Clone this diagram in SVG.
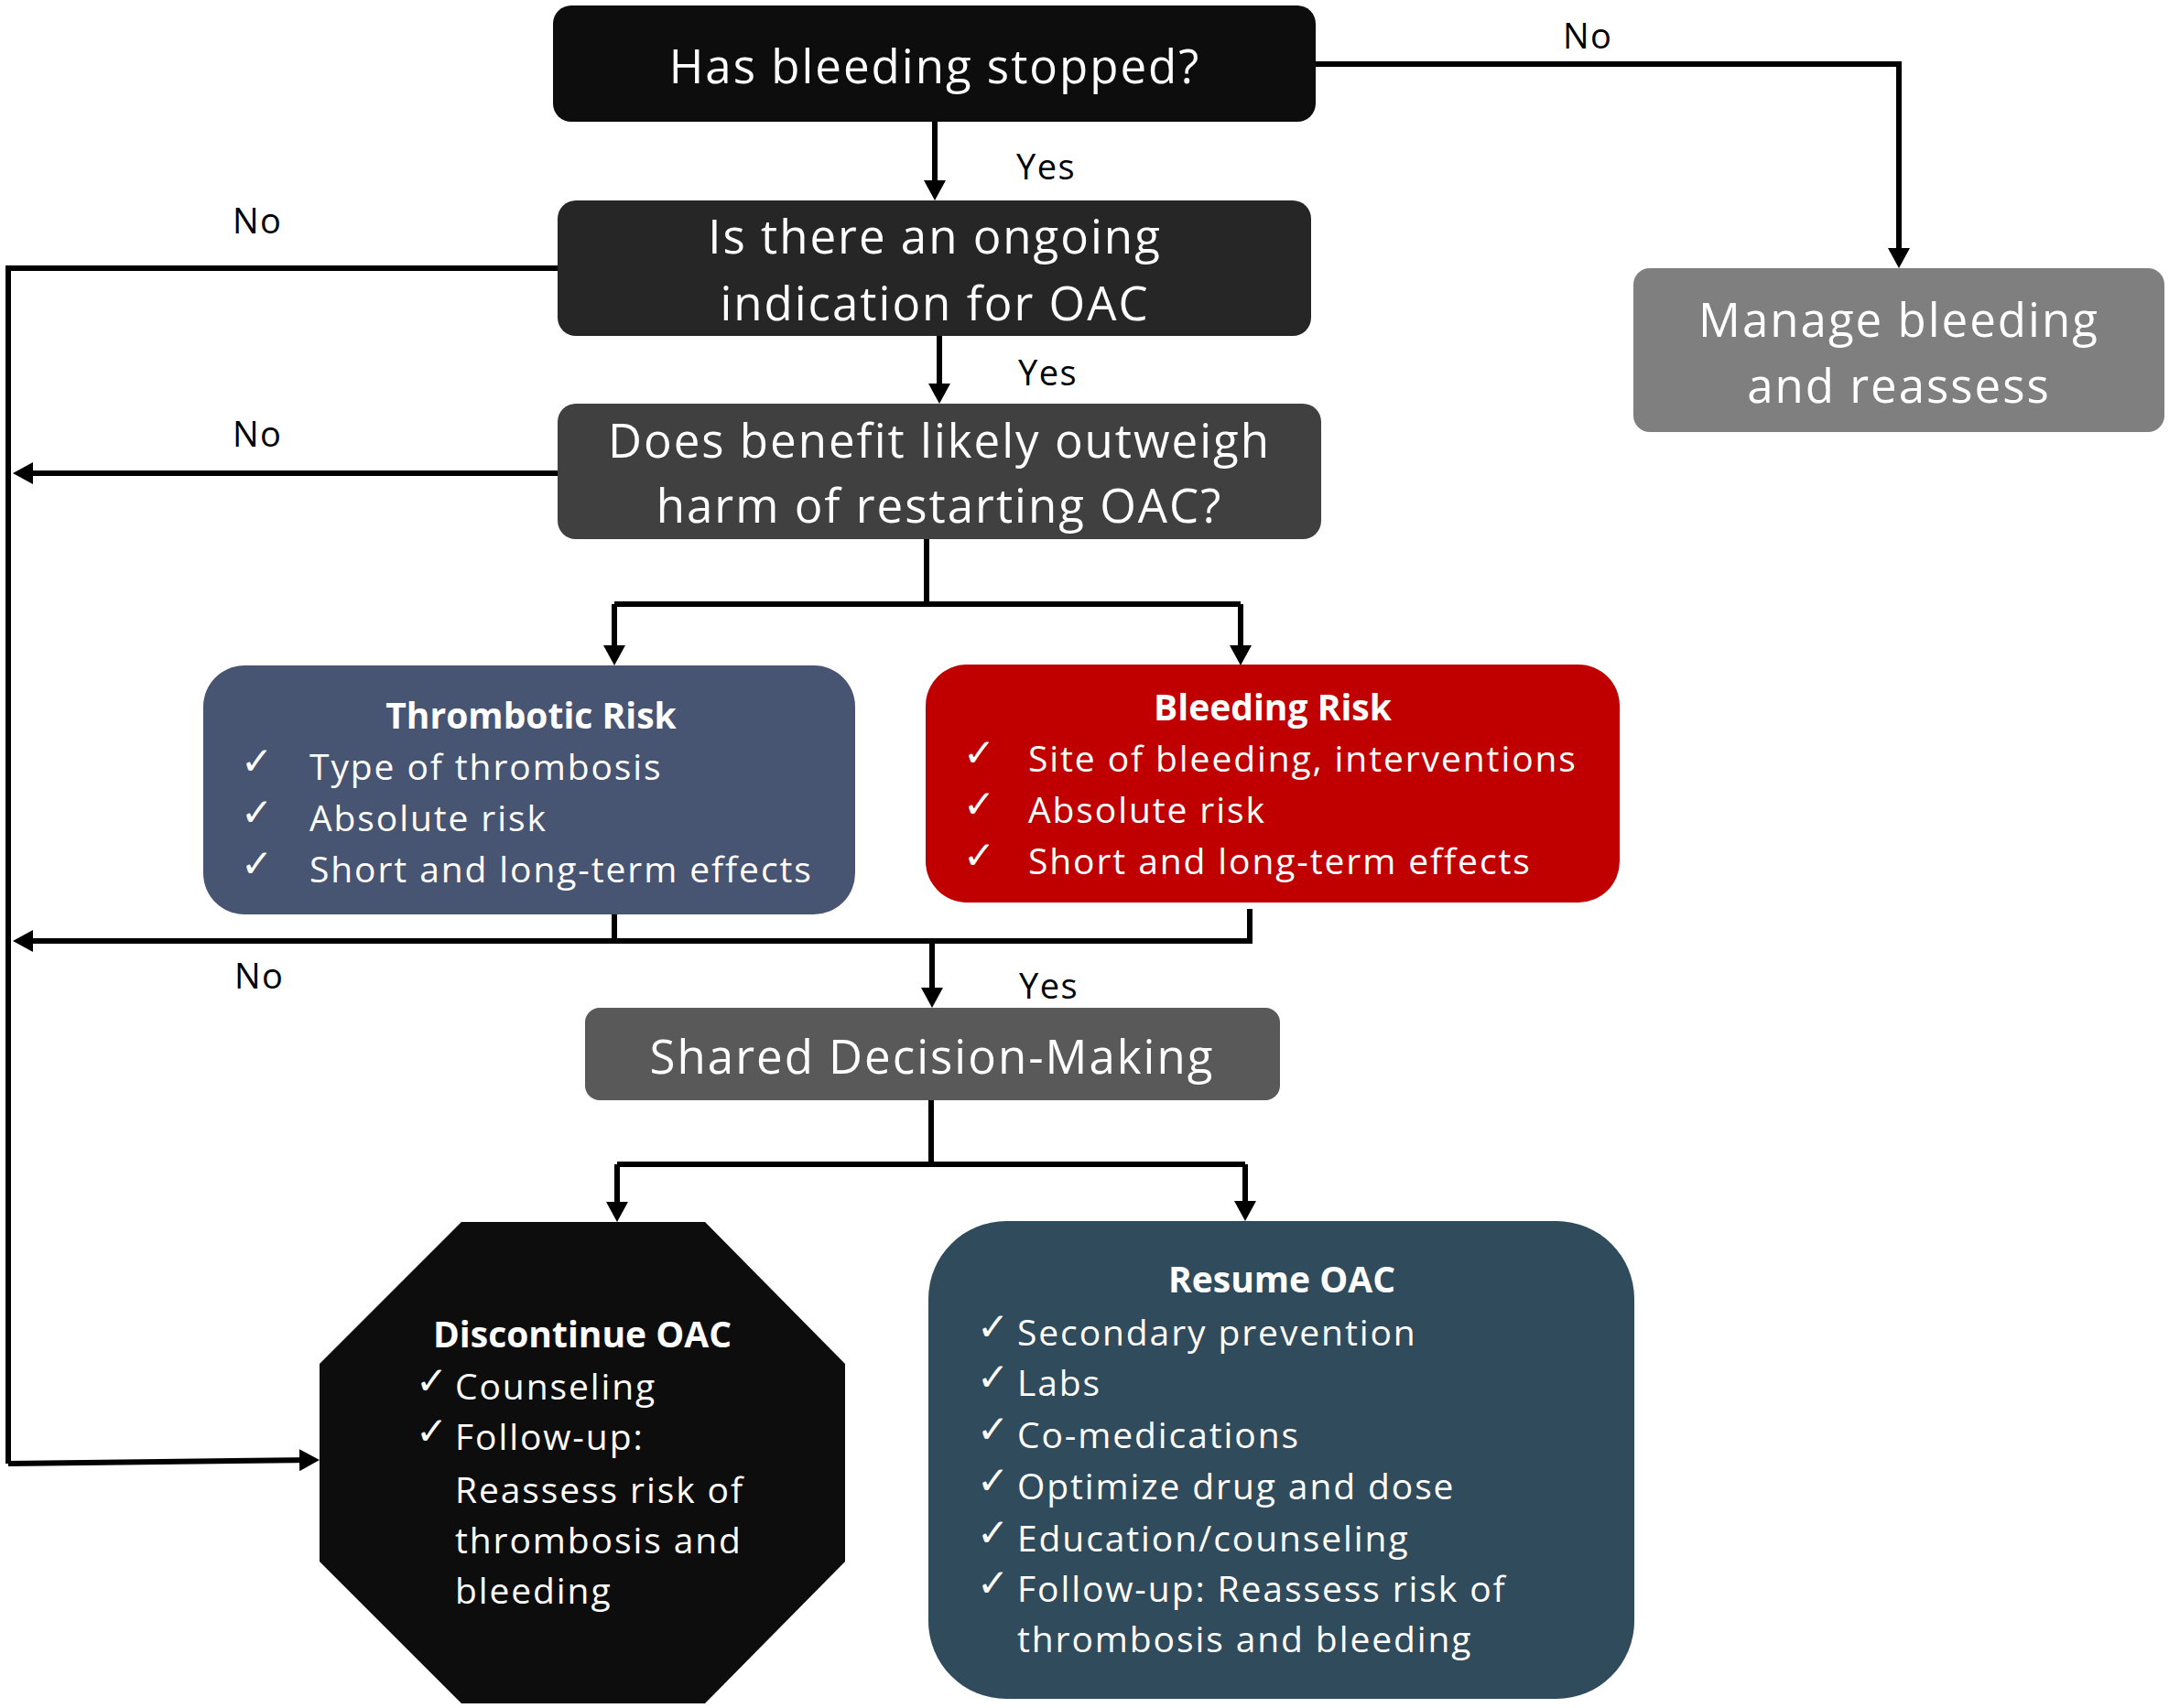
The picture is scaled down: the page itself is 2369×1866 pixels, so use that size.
<svg xmlns="http://www.w3.org/2000/svg" width="2369" height="1866" viewBox="0 0 2369 1866">
<style>
.t{font-family:"Open Sans","Liberation Sans",sans-serif;fill:#fff}
.big{font-size:51px;letter-spacing:2px;text-anchor:middle}
.ttl{font-size:39px;font-weight:bold;text-anchor:middle}
.item{font-size:39px;letter-spacing:1.9px}
.chk{font-family:"DejaVu Sans",sans-serif;fill:#fff;font-size:42px}
.lbl{font-family:"Open Sans","Liberation Sans",sans-serif;fill:#000;font-size:38px;letter-spacing:1.5px}
.ln{fill:none;stroke:#000;stroke-width:6}
.ar{marker-end:url(#ah)}
</style>
<defs>
<marker id="ah" viewBox="0 0 22 24" markerWidth="22" markerHeight="24" refX="16" refY="12" orient="auto" markerUnits="userSpaceOnUse">
<path d="M0,0 L22,12 L0,24 z" fill="#000"/>
</marker>
</defs>
<rect width="2369" height="1866" fill="#fff"/>
<g id="connectors">
<path class="ln ar" d="M1437,70 H2074 V287"/>
<path class="ln ar" d="M1021,133 V213"/>
<path class="ln" d="M609,293 H9 V1599"/>
<path class="ln ar" d="M9,1599 L343,1595"/>
<path class="ln ar" d="M1026,367 V435"/>
<path class="ln ar" d="M609,517 H20"/>
<path class="ln" d="M1012,589 V660 M671,660 H1355"/>
<path class="ln ar" d="M671,660 V721"/>
<path class="ln ar" d="M1355,660 V721"/>
<path class="ln" d="M671,999 V1028"/>
<path class="ln ar" d="M1365,993 V1028 H20"/>
<path class="ln ar" d="M1018,1028 V1095"/>
<path class="ln" d="M1017,1202 V1272 M674,1272 H1360"/>
<path class="ln ar" d="M674,1272 V1329"/>
<path class="ln ar" d="M1360,1272 V1328"/>
<text class="lbl" x="1707" y="53">No</text>
<text class="lbl" x="1110" y="196">Yes</text>
<text class="lbl" x="254" y="255">No</text>
<text class="lbl" x="1112" y="421">Yes</text>
<text class="lbl" x="254" y="488">No</text>
<text class="lbl" x="256" y="1080">No</text>
<text class="lbl" x="1113" y="1091">Yes</text>
</g>
<g id="bleeding-stopped">
<rect x="604" y="6" width="833" height="127" rx="20" fill="#0d0d0d"/>
<text class="t big" x="1021" y="91">Has bleeding stopped?</text>
</g>
<g id="ongoing-indication">
<rect x="609" y="219" width="823" height="148" rx="20" fill="#262626"/>
<text class="t big" x="1021" y="277">Is there an ongoing</text>
<text class="t big" x="1021" y="350">indication for OAC</text>
</g>
<g id="benefit-harm">
<rect x="609" y="441" width="834" height="148" rx="20" fill="#404040"/>
<text class="t big" x="1026" y="500">Does benefit likely outweigh</text>
<text class="t big" x="1026" y="571">harm of restarting OAC?</text>
</g>
<g id="manage-bleeding">
<rect x="1784" y="293" width="580" height="179" rx="18" fill="#7f7f7f"/>
<text class="t big" x="2074" y="368">Manage bleeding</text>
<text class="t big" x="2074" y="440">and reassess</text>
</g>
<g id="thrombotic-risk">
<rect x="222" y="727" width="712" height="272" rx="45" fill="#475572"/>
<text class="t ttl" x="580" y="796">Thrombotic Risk</text>
<text class="chk" x="263" y="846">✓</text>
<text class="chk" x="263" y="902">✓</text>
<text class="chk" x="263" y="958">✓</text>
<text class="t item" x="338" y="852">Type of thrombosis</text>
<text class="t item" x="338" y="908">Absolute risk</text>
<text class="t item" x="338" y="964">Short and long-term effects</text>
</g>
<g id="bleeding-risk">
<rect x="1011" y="726" width="758" height="260" rx="45" fill="#c00000"/>
<text class="t ttl" x="1390" y="787">Bleeding Risk</text>
<text class="chk" x="1052" y="837">✓</text>
<text class="chk" x="1052" y="893">✓</text>
<text class="chk" x="1052" y="949">✓</text>
<text class="t item" x="1123" y="843">Site of bleeding, interventions</text>
<text class="t item" x="1123" y="899">Absolute risk</text>
<text class="t item" x="1123" y="955">Short and long-term effects</text>
</g>
<g id="shared-decision">
<rect x="639" y="1101" width="759" height="101" rx="16" fill="#595959"/>
<text class="t big" x="1018" y="1173">Shared Decision-Making</text>
</g>
<g id="discontinue-oac">
<polygon points="504,1335 770,1335 923,1490 923,1706 770,1861 504,1861 349,1706 349,1490" fill="#0d0d0d"/>
<text class="t ttl" x="636" y="1472">Discontinue OAC</text>
<text class="chk" x="454" y="1523">✓</text>
<text class="chk" x="454" y="1578">✓</text>
<text class="t item" x="497" y="1529">Counseling</text>
<text class="t item" x="497" y="1584">Follow-up:</text>
<text class="t item" x="497" y="1642">Reassess risk of</text>
<text class="t item" x="497" y="1697">thrombosis and</text>
<text class="t item" x="497" y="1752">bleeding</text>
</g>
<g id="resume-oac">
<rect x="1014" y="1334" width="771" height="522" rx="85" fill="#304b5b"/>
<text class="t ttl" x="1400" y="1412">Resume OAC</text>
<text class="chk" x="1067" y="1464">✓</text>
<text class="chk" x="1067" y="1519">✓</text>
<text class="chk" x="1067" y="1576">✓</text>
<text class="chk" x="1067" y="1632">✓</text>
<text class="chk" x="1067" y="1689">✓</text>
<text class="chk" x="1067" y="1744">✓</text>
<text class="t item" x="1111" y="1470">Secondary prevention</text>
<text class="t item" x="1111" y="1525">Labs</text>
<text class="t item" x="1111" y="1582">Co-medications</text>
<text class="t item" x="1111" y="1638">Optimize drug and dose</text>
<text class="t item" x="1111" y="1695">Education/counseling</text>
<text class="t item" x="1111" y="1750">Follow-up: Reassess risk of</text>
<text class="t item" x="1111" y="1805">thrombosis and bleeding</text>
</g>
</svg>
